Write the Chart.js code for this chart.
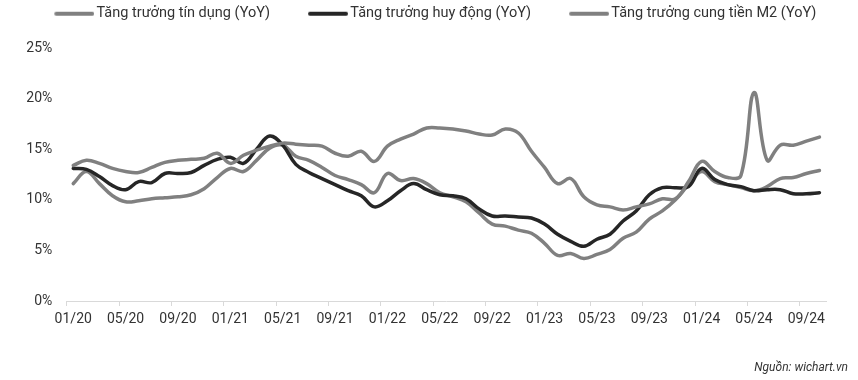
<!DOCTYPE html>
<html>
<head>
<meta charset="utf-8">
<script src="https://cdn.jsdelivr.net/npm/chart.js@4/dist/chart.umd.min.js"></script>
<style>
html,body{margin:0;padding:0;background:#fff;}
#wrap{position:relative;width:858px;height:380px;}
#source{position:absolute;right:10px;top:360px;font:italic 12px Roboto, sans-serif;color:#333;line-height:14px;white-space:nowrap;}
</style>
</head>
<body>
<div id="wrap">
<canvas id="c" width="858" height="380"></canvas>
<div id="source">Nguồn: wichart.vn</div>
</div>
<script>
const months = ['01/20','02/20','03/20','04/20','05/20','06/20','07/20','08/20','09/20','10/20','11/20','12/20',
  '01/21','02/21','03/21','04/21','05/21','06/21','07/21','08/21','09/21','10/21','11/21','12/21',
  '01/22','02/22','03/22','04/22','05/22','06/22','07/22','08/22','09/22','10/22','11/22','12/22',
  '01/23','02/23','03/23','04/23','05/23','06/23','07/23','08/23','09/23','10/23','11/23','12/23',
  '01/24','02/24','03/24','04/24','05/24','06/24','07/24','08/24','09/24','10/24'];

const creditGrowth = [13.4,13.9,13.6,13.1,12.8,12.7,13.2,13.7,13.9,14.0,
  14.1,14.6,13.6,14.4,14.9,15.3,15.6,15.5,15.4,15.3,
  14.6,14.3,14.8,13.8,15.3,16.0,16.5,17.1,17.1,17.0,
  16.8,16.5,16.4,17.0,16.6,14.8,13.2,11.6,12.1,10.3,
  9.5,9.3,9.0,9.3,9.6,10.1,10.1,11.8,13.8,12.8,
  12.2,12.4,20.6,13.9,15.4,15.4,15.8,16.2];

const depositGrowth = [13.1,13.0,12.3,11.4,11.0,11.8,11.7,12.6,12.6,12.7,
  13.4,14.0,14.2,13.6,15.0,16.3,15.4,13.5,12.7,12.1,
  11.5,10.9,10.4,9.3,9.9,10.9,11.6,11.0,10.5,10.4,
  10.1,9.1,8.4,8.4,8.3,8.2,7.6,6.6,5.9,5.4,
  6.1,6.6,7.9,8.9,10.5,11.2,11.2,11.3,13.1,12.0,
  11.5,11.3,10.9,11.0,11.0,10.6,10.6,10.7];

const m2Growth = [11.6,12.8,11.6,10.4,9.8,9.9,10.1,10.2,10.3,10.5,
  11.1,12.2,13.1,12.8,13.9,15.1,15.4,14.3,13.9,13.2,
  12.4,12.0,11.5,10.7,12.6,11.9,12.1,11.6,10.7,10.3,
  9.8,8.7,7.6,7.4,7.0,6.7,5.7,4.5,4.7,4.2,
  4.6,5.1,6.2,6.8,8.1,8.9,10.0,11.5,12.8,11.8,
  11.5,11.2,10.9,11.3,12.1,12.2,12.6,12.9];

const seriesNames = ['Tăng trưởng tín dụng (YoY)', 'Tăng trưởng huy động (YoY)', 'Tăng trưởng cung tiền M2 (YoY)'];
const seriesColors = ['#808080', '#262626', '#808080'];
const yTickStep = 5;
const yMin = 0, yMax = 25;

const BOX_W = 69;
function legendLine(color) {
  const c = document.createElement('canvas');
  c.width = BOX_W + 10; c.height = 6;
  const g = c.getContext('2d');
  g.strokeStyle = color; g.lineWidth = 4; g.lineCap = 'round';
  g.beginPath(); g.moveTo(BOX_W - 28, 3); g.lineTo(BOX_W + 8, 3); g.stroke();
  return c;
}
const legendImgs = seriesColors.map(legendLine);

const legendGap = {
  id: 'legendGap',
  beforeInit(chart) {
    const orig = chart.legend.fit;
    chart.legend.fit = function () { orig.call(this); this.height += 17; };
  }
};

Chart.defaults.font.family = 'Roboto, sans-serif';
const tickFont = { family: 'Roboto, sans-serif', size: 14 };

new Chart(document.getElementById('c'), {
  type: 'line',
  data: {
    labels: months,
    datasets: [
      { label: seriesNames[0], data: creditGrowth, borderColor: seriesColors[0], backgroundColor: seriesColors[0] },
      { label: seriesNames[1], data: depositGrowth, borderColor: seriesColors[1], backgroundColor: seriesColors[1] },
      { label: seriesNames[2], data: m2Growth, borderColor: seriesColors[2], backgroundColor: seriesColors[2] }
    ]
  },
  options: {
    responsive: false,
    animation: false,
    layout: { padding: { left: 10.6, right: 32, top: 2.5, bottom: 46.2 } },
    elements: {
      point: { radius: 0, hoverRadius: 0 },
      line: { tension: 0.4, borderWidth: 3.5, borderCapStyle: 'round', borderJoinStyle: 'round', fill: false }
    },
    plugins: {
      tooltip: { enabled: false },
      legend: {
        position: 'top',
        labels: {
          usePointStyle: true,
          pointStyleWidth: BOX_W,
          padding: 4,
          color: '#333',
          font: { family: 'Roboto, sans-serif', size: 14.5 },
          generateLabels(chart) {
            const items = Chart.defaults.plugins.legend.labels.generateLabels(chart);
            items.forEach((it, i) => { it.pointStyle = legendImgs[i]; });
            return items;
          }
        }
      }
    },
    scales: {
      x: {
        type: 'category',
        offset: true,
        grid: {
          offset: true,
          drawOnChartArea: false,
          drawTicks: true,
          tickLength: 5,
          color: (ctx) => (ctx.index % 4 === 0 ? '#d9d9d9' : 'rgba(0,0,0,0)')
        },
        border: { display: true, color: '#d9d9d9', width: 1 },
        ticks: {
          autoSkip: false,
          maxRotation: 0,
          minRotation: 0,
          padding: 5.5,
          color: '#333',
          font: tickFont,
          callback(value, index) { return index % 4 === 0 ? this.getLabelForValue(value) : ''; }
        }
      },
      y: {
        min: yMin,
        max: yMax,
        grid: { display: false, drawTicks: false },
        border: { display: false },
        ticks: {
          stepSize: yTickStep,
          padding: 14.4,
          color: '#333',
          font: tickFont,
          callback: (v) => v + '%'
        },
        afterFit(scale) { scale.width = 56.1; }
      }
    }
  },
  plugins: [legendGap]
});
</script>
</body>
</html>
